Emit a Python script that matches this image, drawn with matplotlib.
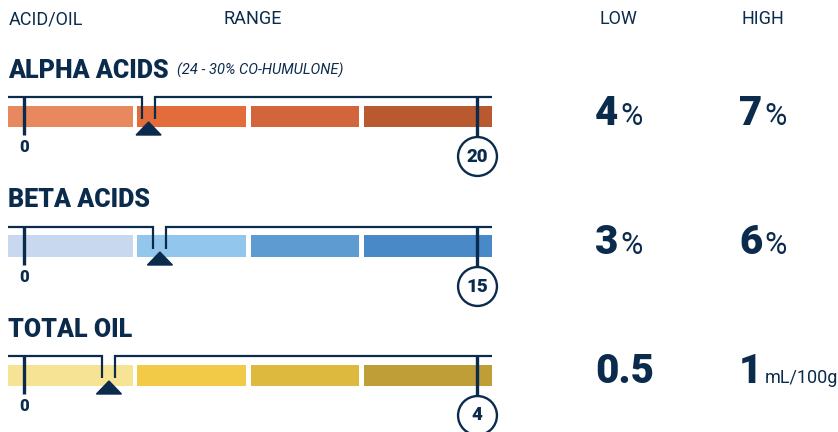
import matplotlib
matplotlib.use("Agg")
import matplotlib.pyplot as plt
from matplotlib.patches import Polygon

# data
names = ["ALPHA ACIDS", "BETA ACIDS", "TOTAL OIL"]
subtitles = ["(24 - 30% CO-HUMULONE)", "", ""]
scale_max = [20, 15, 4]
low = [4, 3, 0.5]
high = [7, 6, 1]
low_text = ["4", "3", "0.5"]
high_text = ["7", "6", "1"]
low_units = ["%", "%", ""]
high_units = ["%", "%", "mL/100g"]
seg_colors = [
    ["#E8885E", "#E36C3B", "#D2653C", "#B9592F"],
    ["#C8D8EE", "#93C6EC", "#5D9BD1", "#4A89C8"],
    ["#F7E394", "#F3CA47", "#DDB93D", "#BF9D37"],
]
headers = ["ACID/OIL", "RANGE", "LOW", "HIGH"]

NAVY = "#0B2B4C"
W, H = 838, 432
NARROW = ["Roboto", "DejaVu Sans"]
HEAVY = ["Roboto", "DejaVu Sans"]

fig = plt.figure(figsize=(W / 100, H / 100), dpi=100)


def fx(px):
    return px / W


def fy(py):
    return 1 - py / H


# header row
header_x = [9, 253, 618, 763]
header_ha = ["left", "center", "center", "center"]
for txt, x, ha in zip(headers, header_x, header_ha):
    fig.text(fx(x), fy(19), txt, ha=ha, va="center", fontsize=13,
             color=NAVY, family=NARROW)

row_top = [97, 227, 356]      # bracket line, px from top
title_base = [78, 207, 337]
value_base = [125, 254, 383]

ZERO_PX, END_PX = 24, 477     # where 0 and max sit
LEFT_PX, RIGHT_PX = 8, 492

for i in range(3):
    m = scale_max[i]
    upx = m / (END_PX - ZERO_PX)   # value units per pixel
    ax = fig.add_axes([fx(LEFT_PX), fy(row_top[i] + 80), fx(RIGHT_PX - LEFT_PX), 85 / H])
    ax.set_xlim(-(ZERO_PX - LEFT_PX) * upx, (RIGHT_PX - ZERO_PX) * upx)
    ax.set_ylim(80, -5)
    ax.axis("off")
    x0, x1 = ax.get_xlim()

    # coloured segments, one per quarter of the scale
    edges = [m * q for q in (0, 0.25, 0.5, 0.75, 1.0)]
    gap = 0.01 * m
    for k in range(4):
        left = edges[k] if k > 0 else x0
        right = edges[k + 1] - gap if k < 3 else x1
        ax.barh(19, right - left, left=left, height=21, color=seg_colors[i][k], zorder=1)

    mid = (low[i] + high[i]) / 2
    g = 6.5 * upx
    lw_thin = 1.6
    # bracket with a notch at the marker
    ax.plot([x0, mid - g, mid - g], [0, 0, 22], color=NAVY, lw=lw_thin,
            solid_capstyle="butt", solid_joinstyle="miter", zorder=3)
    ax.plot([mid + g, mid + g, x1], [22, 0, 0], color=NAVY, lw=lw_thin,
            solid_capstyle="butt", solid_joinstyle="miter", zorder=3)
    # end ticks
    ax.plot([0, 0], [0, 38], color=NAVY, lw=2.4, solid_capstyle="butt", zorder=3)
    ax.plot([m, m], [0, 39], color=NAVY, lw=2.4, solid_capstyle="butt", zorder=3)
    # marker triangle
    tri = Polygon([[mid - 12.5 * upx, 38], [mid + 12.5 * upx, 38], [mid, 25]],
                  closed=True, color=NAVY, zorder=4)
    ax.add_patch(tri)
    # labels
    ax.text(0, 50, "0", ha="center", va="center", fontsize=12,
            fontweight="black", color=NAVY, family=HEAVY)
    ax.plot([m], [59], marker="o", markersize=28, mfc="white", mec=NAVY,
            mew=1.7, clip_on=False, zorder=3)
    ax.text(m, 59.5, str(m), ha="center", va="center", fontsize=13.5,
            fontweight="black", color=NAVY, family=HEAVY, zorder=5)

    # row title
    fig.text(fx(8), fy(title_base[i]), names[i], ha="left", va="baseline",
             fontsize=18, fontweight="black", color=NAVY, family=HEAVY)
    if subtitles[i]:
        fig.text(fx(177), fy(title_base[i] - 3), subtitles[i], ha="left",
                 va="baseline", fontsize=10.5, style="italic", color=NAVY, family=NARROW)

# big low / high values
renderer = fig.canvas.get_renderer()
for i in range(3):
    for x, num, unit in ((595, low_text[i], low_units[i]), (739, high_text[i], high_units[i])):
        t = fig.text(fx(x), fy(value_base[i]), num, ha="left", va="baseline",
                     fontsize=29, fontweight="black", color=NAVY, family=HEAVY)
        if unit:
            bb = t.get_window_extent(renderer)
            size = 22 if unit == "%" else 13
            fig.text((bb.x1 + 2) / W, fy(value_base[i]), unit, ha="left",
                     va="baseline", fontsize=size, color=NAVY, family=NARROW)

fig.savefig("out.png", dpi=100)
